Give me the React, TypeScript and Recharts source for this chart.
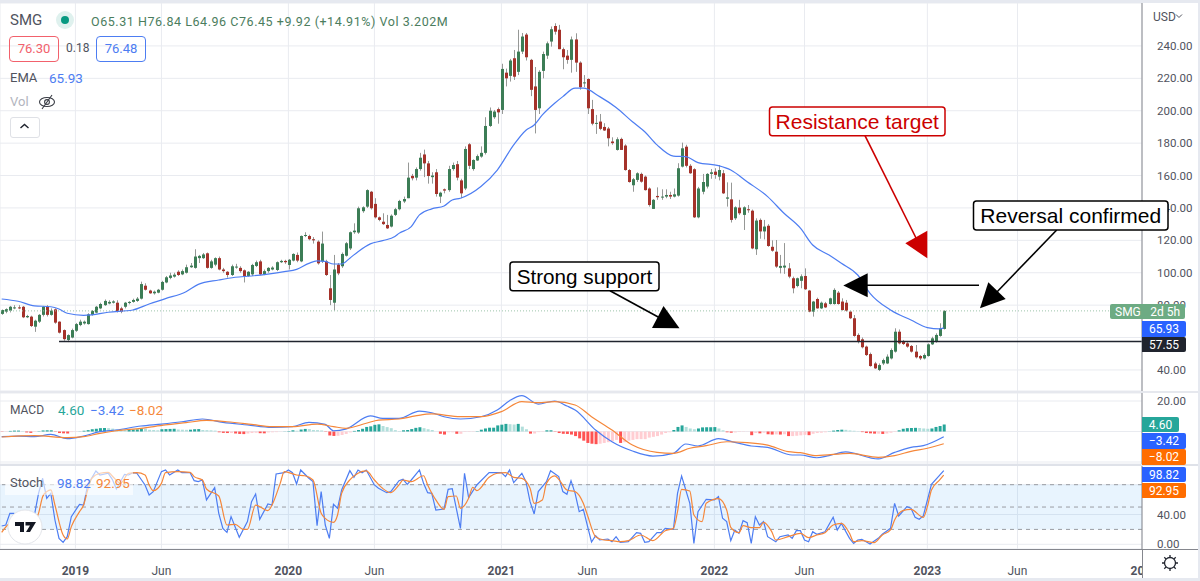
// SMG weekly candles with EMA, MACD and Stochastic panes
import React from "react";
import {
  ComposedChart,
  Bar,
  Line,
  Cell,
  XAxis,
  YAxis,
  CartesianGrid,
  ReferenceLine,
  ReferenceArea,
} from "recharts";

// ─── Data ─────────────────────────────────────────────────────────────────────

const opens = [
  74.6,76,76.6,78.2,78.6,79,72.5,72.9,66.7,69.8, 74,79,74,77.4,69.8,64.6,58.5,60,64.2,67.7,
  68.7,68.3,74,75.4,78,80,81,81.5,81.5,78, 79,81.3,82,82.6,84,92,89,87.3,87.7,89.5,
  94,96.8,97.6,100.6,99,100,103.4,103,109,109, 112,103,105,109,102,100.6,98.6,103.2,103,101.5,
  98,99,104.2,107,99,101,102,101.7,106.5,107.3, 104.8,107.5,111,107,122.7,122.7,120.7,119.2,107,107,
  90.4,81.5,105,104,110.5,115,125,124.8,138,140.8, 150,142.5,134.2,131.5,129.5,128.5,135.7,139.2,
  144,146,159.8,158.7,164,173,167.5,159,162,147, 151.5,151,164,167,157,152,179.3,164,169.3,171.7,
  174,190.6,196,201,200.5,223.5,221.5,232.4,224,236.5, 247,231.4,215,201.5,224.6,234,242.7,252.3,250,238,
  234,231.4,244,229.7,217,219.6,201,192,193.3,190, 189,181,175.8,182.6,178.5,163.4,154,157.3,161,159.3,
  152,139.4,147.4,146.8,147,148,147,147.6,165.5,177.8, 166,163.9,134.2,150,153.2,161,162.4,159.3,161.4,145.7,
  145.3,133.6,140.2,135.7,139.2,138.3,114.5,132.6,125.5,129, 116,113,103,103.2,102.7,96.6,91.8,95,
  98,89,76,83.8,78,81.1,80.7,80.7,87.7,82.2, 81.5,76,71.9,61.6,58.9,54.4,49.8,44,40,44,
  44,47.1,51.3,63.6,57.5,56.4,54.8,51.3,48.6,47.1, 48.6,55.8,57.5,61,65.31,
];
const closes = [
  77,77.5,79,78.6,78.2,72.5,73.3,67.1,70.4,74, 79,74,76.6,69.2,63,59,61.5,64.6,68.3,69.8,
  69.8,74.3,76.4,79,80.7,82.6,82,82.3,76,76, 81.5,82,83.2,84,93,89.5,87.3,88.3,89.5,94.3,
  97.2,98.3,98.8,98.6,101,103.4,104.4,110,110.4,111.3, 103,107,109,102,101,98.6,104,103.8,101,98,
  100.6,104.8,106.5,99,101,103,103.2,106.5,107.3,106.5, 108,111.6,107.5,122.7,123.3,120.7,120,105.8,118,98.6,
  83.2,102,99.6,111.6,118.2,125,126,139.8,140.4,151, 139.8,134.2,132.6,130,127.4,135.2,139.2,144.3,
  145.5,158.7,158.3,164,171,167.5,159.7,160,148.6,149.4, 150.7,164,166.5,158.7,149,176.4,166,169.6,172,174,
  190.6,200,199.5,199,225.8,220,231,221,236.5,245.8, 233,212.9,200.5,224,235,241.6,250.3,248.8,238,233,
  231.4,244,229.7,214.5,217.5,201.5,192,192.5,188.8,187.8, 183,180,182.4,175.8,163.4,156,157.7,161.4,156.2,151,
  141.8,145,146.6,147,148,147,148.4,164.5,176.8,166, 161.4,134.2,152,156,161,162,160.4,163.4,149,146.5,
  132.6,140.4,136.7,140.4,138.6,115,132.2,125.5,128.5,116.5, 113.6,103.8,104.2,104.4,97.6,90.4,96.6,97.8,
  89.8,76,82.2,78,81.5,78.6,84.2,89.4,80.7,77, 76.6,71.9,61,57.5,54,49.2,42.4,41,43,46.1,
  48.2,52.3,63.6,56.4,56,54.4,51.3,47.8,47.1,49.2, 55.8,59.5,61.6,65.7,76.45,
];
const highs = [
  77.3,78,79.5,80,80,79.5,74,73.5,71,74.5, 79.5,80,78,78,70,65,62,65.5,69,71,
  70.5,75,77,79.5,81.5,83.5,83,83,83,79, 82,82.5,84,85,94.5,93.5,89.5,89,90,95,
  98,100,100,101.5,102,105,106,114.5,111,112.2, 112.5,108,109.5,110,103,101,105,105.5,104,102,
  101,105.5,107.5,108,102,103.5,104,107,108,108, 108.5,112,112.5,123,125,123.5,122,120,125.4,108,
  98.6,111,106,112.5,119,125.5,130.5,140.8,141,151.5, 150.5,146,134.7,136.7,135.7,136,140,145,
  147,168,161,165,174,176,169,162,164,150, 152,166,168,169,158,178,180,170,173,178,
  196,202,200.5,202,229,226,232,237.5,250,248, 248,232,227,225,236.5,242.7,252,254,253,239,
  237.5,245.8,247.8,230.5,222,220,206.7,197.4,198,192.3, 190,183.6,183.6,183.4,179.3,164,158.5,162,161.8,160,
  152.7,145.5,152.7,151.5,151.5,150,152,167.6,180.3,179, 167,164.5,153,161,161.5,164,164.5,166.5,163.4,155.8,
  155.6,141,145,141,141.8,139,133.6,133.5,132.6,130, 120,120.2,111,118.3,106,97.6,97,99,
  102.7,89.4,82.6,84.6,82.2,82,84.6,90.4,88.7,84.2, 83.2,76.6,73.9,62.6,60,55,50.7,45,44,47,
  49.6,53.3,65.7,65,58.5,57.2,55.4,55.4,49.2,50.2, 56.4,60.5,62.6,68.8,76.84,
];
const lows = [
  74,75,75.5,77.5,77.5,72,72,66.5,63.5,69, 73,73,73.5,68.5,62.5,58,57.2,59.5,63.5,67,
  68,68,73.5,75,77.5,79.5,80.5,81,75.5,75, 78,80.5,81.5,82,83.5,89,87,86.5,87.3,89,
  93.5,96,97,98,98.5,99.5,103,102.5,106,108.5, 102.5,102.5,104,101.5,100,97,98,102.5,100,94,
  97.5,98,103.5,98.5,98.5,100,101.5,101,106,105.5, 102,107,106.5,106.5,122,120,118,105,106,98,
  80,76.6,98.5,103,110,114,124,124,137,140, 139,133.5,131.8,129.5,127,128,135,138.5,
  143,146,157,157,163,159,155,155,147,143, 149,150,163,157,146,151,164,163,169,171,
  173,190,195,192,198,215,218,219,222,235, 231,209,186,198,220,232,239.6,247,238,225.6,
  229,223.5,224,213,214.5,198,191,185.7,188,187.5, 178,179,175.4,175.8,163,155.6,150,156,155.6,150.7,
  140.8,139.4,145,145,146,145.5,146.5,147,165,165, 161,133.8,133.6,148.4,152,158,158,157,148.6,140.8,
  131,132.6,135.7,126.4,137,114.5,111,121,120.6,116, 113,103,99.6,99.3,96.6,87.3,91,90.4,
  89.4,75.6,72.9,77.8,77.6,78.2,80.3,80.3,80.3,76.6, 76,71.4,60.5,56.4,53.3,48.6,42,40.6,39.3,43,
  43.6,46.5,50.7,55.8,55.4,53.7,50.7,47.1,46.1,46.5, 48.2,55.4,56.8,60.5,64.96,
];

const emaWeeks = [
  0,4,8,12,14,16,20,22,26,32,36,40,45,48,53,57,61,65,69,72,75,77,79,81,83,85,87,90,93,96,
  97,100,102,105,108,110,112,117,121,125,128,130,132,135,137,140,142,146,150,154,157,160,164,167,170,
  175,178,182,187,191,195,198,202,205,209,212,217,222,226,229,230,
];
const emaValues = [
  83.8,82.4,79.6,79,77.6,75,73.7,74,75.6,77,80.7,84,88.3,92.8,95.5,97.2,98,99.2,100.7,102.1,105.8,107.3,107,105.4,105.4,109,113,117.8,119.8,122.3,
  124.3,128.5,135.7,139.4,141.2,144.9,146,153.2,163.4,178.9,188,191.2,197.4,204.6,208.7,213.9,213.9,208.7,202,193.2,187,178.9,172,171.7,168,
  166.1,163.4,156.2,147,136.7,127.5,117.1,110.9,105.8,98.6,87.3,77,70.8,66.1,65.3,65.93,
];

const histogram = [
  -0.2,-0.2,0.4,0.6,0.6,0.2,-0.6,-0.9,-0.3,0.2, 0.7,0.8,0.8,-0.2,-1,-1.2,-1.3,-0.4,-0.2,0.1,
  0.5,0.9,1.5,1.8,2.2,2.3,2.2,1.9,1.4,1.3, 1.2,1.2,1.3,1.4,2,1.9,1.1,1,0.8,1.5,
  1.6,1.7,1.8,1.3,1.2,1.1,1.2,1.5,1.6,1, 0.9,0.8,0.6,-0.5,-0.9,-1,-1,-1.3,-1.6,-1.7,
  -1.3,-1,-0.8,-1.1,-1.2,-0.6,-0.5,-0.4,-0.1,0.1, 0.3,0.8,0.5,1.3,1.7,1.6,1,0.9,0.7,-0.2,
  -2.6,-2.9,-2.8,-2.3,-1.6,-0.6,0.4,1,1.8,3, 3.4,4.4,4.7,3.6,2.9,2.2,0.9,0.3,
  0.8,1,1.6,2.4,2.8,2.2,1.5,1,0,-1.5, -2,-0.5,-0.5,-1.5,-1.5,-0.3,-0.3,-0.2,0.2,1.2,
  2,2.5,2.5,4,4.5,5,4.8,4.6,5,3.2, 1.5,-1.4,-1.3,-0.4,-0.2,0.8,0.8,-0.2,-1,-1.5,
  -1.6,-2,-3,-4.5,-6,-7.5,-8,-8.3,-8,-7.5, -7,-6.4,-5.5,-7.5,-7,-6,-5.5,-5,-5,-5,
  -4,-3.5,-3,-2,-1,-0.5,1,3,4,3, 2,1.5,2,2.7,2.8,2.8,2.9,2,0.8,-0.5,
  -0.8,-0.6,-0.3,-0.2,-0.1,-2.4,-1,-1.2,-0.8,-1.8, -2,-1.9,-2,-1.8,-3,-3,-2.8,-2.5,
  -2.2,-2.4,-1.5,-1,-0.8,-0.5,0.1,0.6,1,1.2, 1.1,0.7,0.5,0.2,-0.4,-1,-1.2,-1.4,-1.4,-1.6,
  -1.3,-0.8,-0.3,0.8,1.8,2.2,2.3,2.4,2.3,2, 1.8,2,3,3.6,4.6,
];

const macdWeeks = [
  0,4,8,12,16,20,24,28,34,39,44,49,54,60,66,71,75,79,81,84,90,93,97,
  102,105,108,112,117,121,124,127,131,135,138,140,145,149,154,159,164,167,170,175,179,183,187,193,195,
  199,202,206,214,218,222,225,230,
];
const macdValues = [
  -3.4,-3,-3.4,-1.9,-4.7,-3,-0.1,1,3.6,4.9,6.4,8.2,6,4.3,2.7,3.2,6,4.7,0.5,1.6,10.2,8.6,8.6,
  13.4,12.3,9.7,8.2,9.7,14.1,20.2,23.5,18,20,16.7,14.1,1,-6.7,-12.8,-16.1,-14.3,-8.2,-9.5,-4.7,-7.1,-9.5,-10.4,-15.4,-15.4,
  -17.2,-15.8,-13.4,-18,-13.7,-10.4,-9.3,-3.42,
];
const signalWeeks = [
  0,8,16,20,24,28,34,40,45,50,55,61,66,71,77,81,84,89,92,97,
  101,105,112,117,122,127,131,135,140,144,149,154,160,164,168,172,177,182,187,192,195,
  199,207,214,218,222,226,230,
];
const signalValues = [
  -3.6,-2.7,-4,-3.4,-1.2,0.5,2.1,4.3,5.8,7.3,6.4,4.7,3.2,3.2,4.9,3.2,2.1,5.4,7.5,8.2,
  10.2,11.5,9.7,9.7,13,19.6,18.9,19.6,17.4,9.7,1,-8.9,-13.7,-14.3,-11,-9.3,-6.7,-7.3,-8.9,-13.2,-13.9,
  -15.8,-14.3,-16.9,-15.8,-13,-11,-8.02,
];

const stochWeeks = [
  0,1,2,3,5,6,8,9,10,11,12,13,14,15,16,17,19,20,21,23,24,26,27,28,30,31,32,33,35,36,37,39,40,41,43,44,46,47,48,49,
  50,52,53,54,55,56,58,60,61,62,63,65,66,67,69,70,71,72,73,75,76,77,78,79,80,81,82,83,85,86,87,88,89,91,92,94,95,97,
  98,99,100,102,103,104,105,106,108,109,110,112,113,114,116,119,120,122,123,124,125,127,128,129,130,131,133,134,136,137,138,139,140,141,142,
  144,145,146,148,149,150,151,153,155,156,157,158,160,161,162,164,165,166,168,169,170,172,174,175,176,177,178,179,180,181,182,183,184,185,186,187,
  189,190,192,193,194,195,196,197,198,199,201,203,204,205,207,208,209,210,212,214,215,217,218,219,221,222,223,224,225,227,230,
];
const stochValues = [
  24.6,25.9,41.6,41.6,35.7,32.6,39.3,68.4,88.6,61.7,68.4,32.6,8,2.6,10.2,37.1,53.6,52.7,79.6,98.4,93,95.3,87.2,74.2,93.9,93,96,95.3,79.6,66.2,70.7,97.5,99.7,93,99.7,96.1,96.1,85.4,84.1,86.3,
  59.5,76,41.6,21.4,16,37.1,9.4,30.4,57.2,67.5,33.5,54.1,52.7,94.4,96.1,99.7,96.1,80.9,99.7,88.6,84.1,25,70.7,25.9,8,53.6,48.3,72.9,98.8,89.9,99.7,96.1,99.7,79.6,75.1,69.2,70.7,85.4,
  87.2,80.5,86.3,99.7,81.8,69.3,68.4,46,47.4,73.8,74.7,21.4,95.3,62.6,79.6,96.1,96.1,96.1,90.8,99.7,82.7,95.3,84.1,57.2,40.7,70.7,84.1,98.8,90.8,70.7,67.1,85.4,68.4,43.8,46.9,
  3.1,11.6,5.8,7.1,3.5,10.2,2.6,3.5,15.6,14.7,2.6,3.5,15.6,15.6,21.4,20.1,68.4,91.7,55,1.3,43.8,60.4,59.5,64,34.9,30.4,4.9,19.2,14.7,31.7,29,1.3,37.1,25.9,30.4,10.2,
  3.5,10.2,12.5,8,18.3,18.3,5.8,3.5,16.9,13.4,16.9,36.2,19.2,28.1,8,1.3,5.8,6.7,0.4,8,13.4,21.4,55,38,50.5,48.3,36.2,33.5,38,80.5,98.82,
];
const stochSignalWeeks = [
  0,2,4,8,9,10,11,12,13,15,16,17,19,20,21,22,24,26,27,29,31,33,35,36,37,39,40,43,46,47,49,50,53,55,57,59,60,62,65,66,68,69,72,74,76,78,79,81,82,83,85,87,89,91,93,95,97,
  98,100,103,104,106,108,109,111,112,114,115,116,119,121,123,125,127,129,130,132,133,135,136,138,140,142,143,145,147,149,151,153,156,159,162,164,165,166,168,169,171,172,175,177,178,180,181,183,185,186,188,189,192,195,
  197,199,201,203,205,207,208,210,213,215,217,218,220,222,225,226,227,229,230,
];
const stochSignalValues = [
  16,28.1,30.4,30.4,41.6,63.9,70.7,72.9,52.7,12.5,7.1,23.7,43.8,52.7,72.9,88.6,95.3,96.6,91.7,81.8,95.3,96.1,93,79.6,72,81.8,96.1,97.5,96.6,90.8,86.3,74.2,64.8,25.9,26.8,20.1,20.1,52.7,45.1,52.7,81.8,97.5,93,92,86.3,41.6,34.8,29.5,39.3,68.4,86.3,95.3,98.4,86.3,75.1,69.3,79.6,
  86.3,84.1,92,79.6,59.5,46.9,63.9,64.8,48.3,61.7,76.5,72,89.9,95.3,96.1,89.9,88.5,75.1,55,59.5,81.8,91.7,87.2,72.9,70.7,55,39.3,10.2,5.8,4.9,3.5,4.9,12.5,4.9,18.3,21.4,43.8,73.7,71.5,39.3,30.4,55,61.2,46,22.8,15.6,25,22.3,22.3,29.5,17,5.8,10.2,14.7,
  8.9,12.5,15.6,25.9,28.1,14.7,3.5,4.9,2.2,12.5,19.2,32.6,45.1,46.9,36.2,50.5,72.9,86.3,92.95,
];

const priceTicks = [40, 60, 80, 100, 120, 140, 160, 180, 200, 220, 240];
const macdTicks = [-20, 0, 20];
const stochTicks = [0, 40, 80];
const timeTicks = [18, 39, 70, 91, 122, 143, 174, 196, 226, 248, 279];
const timeLabels = ["2019", "Jun", "2020", "Jun", "2021", "Jun", "2022", "Jun", "2023", "Jun", "2024"];

// ─── Rows for the shared week axis ────────────────────────────────────────────

const rows: any[] = opens.map((o, i) => ({
  i,
  o,
  c: closes[i],
  h: highs[i],
  l: lows[i],
  range: [lows[i], highs[i]],
  hist: histogram[i],
}));
const fill = (key: string, weeks: number[], values: number[]) =>
  weeks.forEach((w, n) => {
    rows[w][key] = values[n];
  });
fill("ema", emaWeeks, emaValues);
fill("macd", macdWeeks, macdValues);
fill("signal", signalWeeks, signalValues);
fill("k", stochWeeks, stochValues);
fill("d", stochSignalWeeks, stochSignalValues);

// ─── Colours and shared props ─────────────────────────────────────────────────

const GREEN = "#3c7d56";
const RED = "#a5322a";
const WICK = "#969896";
const BLUE = "#4d7df2";
const ORANGE = "#f5873a";
const GRID = "#e9ebf0";
const AXIS = "#85878e";
const TEXT = "#50535e";
const FONT = "Roboto, sans-serif";

const xDomain: [number, number] = [-0.41, 278.4];
const gridTicks = timeTicks.slice(0, -1);
const axisTick = { fill: TEXT, fontSize: 11.5, fontFamily: FONT };

const Candle = (props: any) => {
  const { x, y, width, height, payload } = props;
  const { o, c, h, l } = payload;
  const span = h - l || 1;
  const py = (v: number) => y + ((h - v) / span) * height;
  const mid = Math.round(x + width / 2);
  const top = py(Math.max(o, c));
  const bottom = py(Math.min(o, c));
  return (
    <g>
      <line x1={mid + 0.5} x2={mid + 0.5} y1={y} y2={y + height} stroke={WICK} strokeWidth={1} />
      <rect x={mid - 1} y={top} width={3} height={Math.max(bottom - top, 1)} fill={c >= o ? GREEN : RED} />
    </g>
  );
};

const histColor = (n: number) => {
  const v = histogram[n];
  const prev = n > 0 ? histogram[n - 1] : 0;
  if (v >= 0) return v >= prev ? "#26a69a" : "#b2dfdb";
  return v < prev ? "#ff5252" : "#ffcdd2";
};

// labels that sit fully behind a price tag in the screenshot stay empty
const fmtTick = (covered: number[]) => (v: number) => (covered.includes(v) ? "" : v.toFixed(2));

const pane = (top: number, height: number): React.CSSProperties => ({
  position: "absolute",
  left: 0,
  top,
  width: 1200,
  height,
});

const Txt = ({ x, y, color = TEXT, size = 13, bold, children }: any) => (
  <div
    style={{
      position: "absolute",
      left: x,
      top: y,
      color,
      fontSize: size,
      fontWeight: bold ? 700 : 400,
      lineHeight: "16px",
      whiteSpace: "nowrap",
      fontFamily: FONT,
    }}
  >
    {children}
  </div>
);

const Tag = ({ top, bg, width = 44, children }: any) => (
  <div
    style={{
      position: "absolute",
      left: 1142,
      top,
      width,
      height: 15.5,
      background: bg,
      color: "#fff",
      fontSize: 12,
      lineHeight: "16px",
      textAlign: "center",
      borderRadius: "0 2px 2px 0",
      fontFamily: FONT,
    }}
  >
    {children}
  </div>
);

const Hairline = ({ x, y, w, h, color }: any) => (
  <div style={{ position: "absolute", left: x, top: y, width: w, height: h, background: color }} />
);

// annotation box with text, drawn over the chart
const Note = ({ x, y, w, h, color, size, children }: any) => (
  <g>
    <rect x={x} y={y} width={w} height={h} rx={3} fill="#fff" stroke={color} strokeWidth={1.5} />
    <text
      x={x + w / 2}
      y={y + h / 2 + size * 0.35}
      textAnchor="middle"
      fontSize={size}
      fontFamily="'Liberation Sans', Arial, sans-serif"
      fill={color}
    >
      {children}
    </text>
  </g>
);

export default function App() {
  return (
    <div style={{ position: "absolute", left: 0, top: 0, width: 1200, height: 581, background: "#fff", overflow: "hidden" }}>
      {/* Price pane */}
      <div style={pane(3, 388)}>
        <ComposedChart width={1200} height={388} data={rows} margin={{ top: 0, right: 0, bottom: 0, left: 0 }}>
          <CartesianGrid stroke={GRID} />
          <XAxis dataKey="i" type="number" domain={xDomain} ticks={gridTicks} allowDataOverflow hide interval={0} />
          <YAxis
            orientation="right"
            width={58}
            type="number"
            domain={[27, 266.5]}
            ticks={priceTicks}
            allowDataOverflow
            interval={0}
            tick={axisTick}
            tickFormatter={fmtTick([60])}
            tickLine={false}
            tickMargin={9}
            axisLine={{ stroke: AXIS }}
          />
          <ReferenceLine y={76.45} stroke="#9cc4aa" strokeDasharray="1 2" />
          <Bar dataKey="range" barSize={3} shape={<Candle />} isAnimationActive={false} />
          <Line dataKey="ema" type="monotone" stroke={BLUE} strokeWidth={1.2} dot={false} connectNulls isAnimationActive={false} />
          <ReferenceLine
            stroke="#20242e"
            strokeWidth={1.5}
            segment={[
              { x: 14, y: 57.55 },
              { x: 278.4, y: 57.55 },
            ]}
          />
        </ComposedChart>
      </div>

      {/* MACD pane */}
      <div style={pane(393, 71)}>
        <ComposedChart width={1200} height={71} data={rows} margin={{ top: 0, right: 0, bottom: 0, left: 0 }}>
          <CartesianGrid stroke={GRID} />
          <XAxis dataKey="i" type="number" domain={xDomain} ticks={gridTicks} allowDataOverflow hide interval={0} />
          <YAxis
            orientation="right"
            width={58}
            type="number"
            domain={[-21.3, 25.25]}
            ticks={macdTicks}
            allowDataOverflow
            interval={0}
            tick={axisTick}
            tickFormatter={fmtTick([-20, 0])}
            tickLine={false}
            tickMargin={9}
            axisLine={{ stroke: AXIS }}
          />
          <Bar dataKey="hist" barSize={3} isAnimationActive={false}>
            {rows.map((r) => (
              <Cell key={r.i} fill={histColor(r.i)} />
            ))}
          </Bar>
          <Line dataKey="macd" type="monotone" stroke={BLUE} strokeWidth={1.2} dot={false} connectNulls isAnimationActive={false} />
          <Line dataKey="signal" type="monotone" stroke={ORANGE} strokeWidth={1.2} dot={false} connectNulls isAnimationActive={false} />
        </ComposedChart>
      </div>

      {/* Stochastic pane, a little taller than its plot so the 0.00 label has room */}
      <div style={pane(465, 90)}>
        <ComposedChart width={1200} height={90} data={rows} margin={{ top: 0, right: 0, bottom: 6, left: 0 }}>
          <CartesianGrid stroke={GRID} />
          <XAxis dataKey="i" type="number" domain={xDomain} ticks={gridTicks} allowDataOverflow hide interval={0} />
          <YAxis
            orientation="right"
            width={58}
            type="number"
            domain={[-6.3, 106.4]}
            ticks={stochTicks}
            allowDataOverflow
            interval={0}
            tick={axisTick}
            tickFormatter={fmtTick([80])}
            tickLine={false}
            tickMargin={9}
            axisLine={{ stroke: AXIS }}
          />
          <ReferenceArea y1={20} y2={80} fill="#2196f3" fillOpacity={0.1} stroke="none" />
          <ReferenceLine y={80} stroke="#9a9ca3" strokeDasharray="4 4" />
          <ReferenceLine y={50} stroke="#9a9ca3" strokeDasharray="4 4" />
          <ReferenceLine y={20} stroke="#9a9ca3" strokeDasharray="4 4" />
          <Line dataKey="k" stroke={BLUE} strokeWidth={1.2} dot={false} connectNulls isAnimationActive={false} />
          <Line dataKey="d" type="monotone" stroke={ORANGE} strokeWidth={1.2} dot={false} connectNulls isAnimationActive={false} />
        </ComposedChart>
      </div>

      {/* Time axis, clipped at the price scale so the last label is cut */}
      <div style={{ position: "absolute", left: 0, top: 540, width: 1142, height: 41, overflow: "hidden" }}>
        <ComposedChart width={1146} height={41} data={rows} margin={{ top: 0, right: 0, bottom: 0, left: 0 }}>
          <XAxis
            dataKey="i"
            type="number"
            domain={[-0.41, 279.4]}
            ticks={timeTicks}
            allowDataOverflow
            interval={0}
            height={31.5}
            axisLine={{ stroke: AXIS }}
            tickLine={false}
            tickMargin={6}
            tick={(p: any) => {
              const label = timeLabels[timeTicks.indexOf(p.payload.value)];
              return (
                <text x={p.x} y={p.y + 13} textAnchor="middle" fontSize={12} fontFamily={FONT} fontWeight={label === "Jun" ? 400 : 700} fill={TEXT}>
                  {label}
                </text>
              );
            }}
          />
          <Line dataKey="none" isAnimationActive={false} />
        </ComposedChart>
      </div>

      {/* Frame */}
      <Hairline x={0} y={0} w={1200} h={3} color="#e6e9f0" />
      <Hairline x={0} y={391} w={1198} h={2} color="#e6e8ee" />
      <Hairline x={0} y={464} w={1198} h={1.5} color="#dfe2e9" />
      <Hairline x={1142} y={549} w={56} h={1} color={AXIS} />
      <Hairline x={1142} y={549} w={1} h={30} color={AXIS} />
      <Hairline x={0} y={578} w={1200} h={3} color="#e6e9f0" />
      <Hairline x={1198} y={0} w={2} h={581} color="#e6e9f0" />

      {/* Legend */}
      <Txt x={10} y={12} size={15}>SMG</Txt>
      <svg style={{ position: "absolute", left: 55, top: 10 }} width={20} height={20}>
        <circle cx={10} cy={10} r={9} fill="#dff1ee" />
        <circle cx={10} cy={10} r={4} fill="#089981" />
      </svg>
      <Txt x={91} y={14} color="#4b7d5e" size={12.5}>
        <span style={{ letterSpacing: 0.55 }}>O65.31 H76.84 L64.96 C76.45 +9.92 (+14.91%) Vol 3.202M</span>
      </Txt>
      <div style={{ position: "absolute", left: 9, top: 36, width: 48, height: 24, border: "1px solid #f2616c", borderRadius: 4, color: "#f2616c", fontSize: 13, lineHeight: "24px", textAlign: "center", fontFamily: FONT }}>76.30</div>
      <Txt x={66} y={40} size={12}>0.18</Txt>
      <div style={{ position: "absolute", left: 96, top: 36, width: 48, height: 24, border: "1px solid #4d7df2", borderRadius: 4, color: "#4d7df2", fontSize: 13, lineHeight: "24px", textAlign: "center", fontFamily: FONT }}>76.48</div>
      <Txt x={10} y={70} size={13}>EMA</Txt>
      <Txt x={49} y={70} color={BLUE} size={13.5}>65.93</Txt>
      <Txt x={10} y={94} color="#b2b5be" size={13}>Vol</Txt>
      <svg style={{ position: "absolute", left: 38, top: 93 }} width={18} height={18}>
        <ellipse cx={9} cy={9} rx={7.5} ry={4.5} fill="none" stroke="#3a3d45" strokeWidth={1.1} />
        <circle cx={9} cy={9} r={2.4} fill="none" stroke="#3a3d45" strokeWidth={1.1} />
        <line x1={14} y1={2} x2={4} y2={16} stroke="#3a3d45" strokeWidth={1.1} />
      </svg>
      <div style={{ position: "absolute", left: 10, top: 117, width: 28, height: 19, border: "1px solid #dfe1e6", borderRadius: 3 }} />
      <svg style={{ position: "absolute", left: 19, top: 122 }} width={11} height={8}>
        <path d="M1.5 6 L5.5 2.5 L9.5 6" fill="none" stroke="#20242e" strokeWidth={1.4} />
      </svg>

      <Txt x={10} y={402} size={12}>MACD</Txt>
      <Txt x={58} y={402} color="#26a69a" size={13.5}>4.60</Txt>
      <Txt x={90} y={402} color={BLUE} size={13.5}>−3.42</Txt>
      <Txt x={129} y={402} color={ORANGE} size={13.5}>−8.02</Txt>

      <div style={{ position: "absolute", left: 5, top: 470, width: 128, height: 25, background: "rgba(255,255,255,0.6)" }} />
      <Txt x={10} y={475} size={13}>Stoch</Txt>
      <Txt x={57} y={475} color={BLUE} size={13.5}>98.82</Txt>
      <Txt x={96} y={475} color={ORANGE} size={13.5}>92.95</Txt>

      {/* Annotations */}
      <svg style={{ position: "absolute", left: 0, top: 0 }} width={1200} height={581}>
        <circle cx={25} cy={527} r={17} fill="#fff" stroke="#e3e5ea" />
        <path d="M15 522 H24 V532 H20 V526 H15 Z M25.5 522 H36 L30 532 H26 L30 525.5 H25.5 Z" fill="#131722" />

        <line x1={610} y1={290.7} x2={660} y2={318} stroke="#000" strokeWidth={1.6} />
        <polygon points="663.5,306 652,328 679.5,328.3" fill="#000" />
        <Note x={510} y={262} w={149} h={28.7} color="#000" size={20.7}>Strong support</Note>

        <line x1={865} y1={135.7} x2={916} y2={238} stroke="#cc0000" strokeWidth={1.6} />
        <polygon points="927.3,230.7 905.3,243.3 927.3,258.3" fill="#cc0000" />
        <Note x={769.5} y={107} w={175.5} h={28.7} color="#cc0000" size={21}>Resistance target</Note>

        <line x1={979} y1={285.3} x2={860} y2={285.3} stroke="#000" strokeWidth={1.6} />
        <polygon points="843.3,285.5 867.7,273.3 867.7,297.3" fill="#000" />

        <line x1={1056.7} y1={230} x2={995} y2={294} stroke="#000" strokeWidth={1.6} />
        <polygon points="988.3,282.3 980,308.3 1005.7,299" fill="#000" />
        <Note x={973.5} y={201} w={194.5} h={29} color="#000" size={21}>Reversal confirmed</Note>
      </svg>

      {/* Price scale tags */}
      <Txt x={1153} y={9} size={12}>USD</Txt>
      <svg style={{ position: "absolute", left: 1175, top: 13 }} width={8} height={7}>
        <path d="M1 1.5 L4 4.5 L7 1.5" fill="none" stroke={TEXT} strokeWidth={1} />
      </svg>
      <div style={{ position: "absolute", left: 1110, top: 303.5, width: 75, height: 15.5, background: "#6dab83", borderRadius: 2, color: "#fff", fontSize: 12, lineHeight: "16px", fontFamily: FONT }}>
        <span style={{ position: "absolute", left: 5 }}>SMG</span>
        <span style={{ position: "absolute", right: 5 }}>2d 5h</span>
      </div>
      <Tag top={321} bg="#2962ff">65.93</Tag>
      <Tag top={336.5} bg="#20242e">57.55</Tag>
      <Tag top={416.5} bg="#26a69a" width={37}>4.60</Tag>
      <Tag top={433} bg="#2962ff">−3.42</Tag>
      <Tag top={449} bg="#ff6d00">−8.02</Tag>
      <Tag top={466.5} bg="#2962ff">98.82</Tag>
      <Tag top={482.5} bg="#ff6d00">92.95</Tag>

      {/* Gear */}
      <svg style={{ position: "absolute", left: 1160, top: 553 }} width={20} height={20}>
        <circle cx={10} cy={10} r={5.5} fill="none" stroke="#20242e" strokeWidth={1.3} />
        <path d="M10 2 V4.5 M10 15.5 V18 M2 10 H4.5 M15.5 10 H18 M4.3 4.3 L6.1 6.1 M13.9 13.9 L15.7 15.7 M4.3 15.7 L6.1 13.9 M13.9 6.1 L15.7 4.3" stroke="#20242e" strokeWidth={1.3} />
      </svg>
    </div>
  );
}
